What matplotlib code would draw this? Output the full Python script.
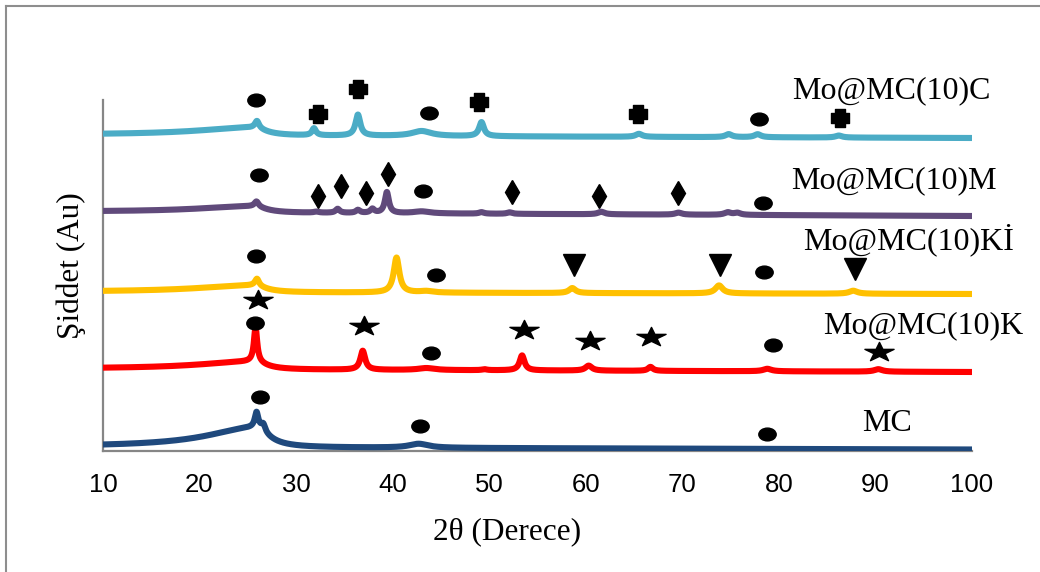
import numpy as np
import matplotlib
matplotlib.use("Agg")
import matplotlib.pyplot as plt
from matplotlib.path import Path
from matplotlib.transforms import Affine2D
from matplotlib.lines import Line2D

# ---------------------------------------------------------------------------
# XRD patterns (intensity in arbitrary units, curves stacked with offsets)
# each sample: baseline at 10° and 100°, broad carbon hump (A, centre, wl, wr)
# and sharp reflections (position, height, half width)
# ---------------------------------------------------------------------------
samples = ["MC", "Mo@MC(10)K", "Mo@MC(10)Kİ", "Mo@MC(10)M", "Mo@MC(10)C"]
colors = ["#1F497D", "#FF0000", "#FFC000", "#604A7B", "#4BACC6"]

base_left = [4, 82, 159, 239, 316]
base_right = [1.5, 79, 157, 235, 313]

hump_amp = [20, 8, 7, 6.5, 8]
hump_center = [25.8, 25.6, 25.6, 25.6, 25.6]
hump_wl = [6.0, 7.0, 7.0, 7.0, 7.0]
hump_wr = [1.6, 1.5, 1.5, 1.5, 1.5]

mc_pos = [25.9, 26.6, 42.7]
mc_h = [15, 7, 4]
mc_w = [0.22, 0.25, 1.2]

k_pos = [25.8, 36.9, 43.5, 49.5, 53.4, 60.3, 66.7, 78.8, 90.3]
k_h = [35, 19, 2, 1, 15, 5, 4, 2.5, 2.5]
k_w = [0.2, 0.3, 1.0, 0.3, 0.3, 0.4, 0.3, 0.5, 0.5]

ki_pos = [25.95, 40.4, 43.5, 58.6, 73.8, 87.7]
ki_h = [7, 35, 1.5, 5, 8, 3]
ki_w = [0.25, 0.35, 0.8, 0.4, 0.45, 0.5]

m_pos = [25.9, 32.1, 34.3, 36.4, 37.9, 39.4, 43.0, 49.2, 52.1, 61.6, 69.6, 74.7, 75.7]
m_h = [5, 1, 4, 3, 4, 21, 2, 1.5, 1.5, 2.5, 2, 2.5, 2]
m_w = [0.25, 0.3, 0.25, 0.25, 0.25, 0.25, 1.0, 0.3, 0.3, 0.4, 0.4, 0.4, 0.4]

c_pos = [25.95, 31.85, 36.4, 43.0, 49.2, 65.5, 74.8, 77.8, 86.2]
c_h = [7, 7, 21, 5, 14, 3, 3, 3, 2]
c_w = [0.25, 0.25, 0.3, 1.2, 0.3, 0.4, 0.4, 0.4, 0.4]

peak_pos = [mc_pos, k_pos, ki_pos, m_pos, c_pos]
peak_h = [mc_h, k_h, ki_h, m_h, c_h]
peak_w = [mc_w, k_w, ki_w, m_w, c_w]

# phase markers (2θ, height)
circle_x = [26.26, 42.83, 78.77, 25.74, 43.97, 79.39, 25.85, 44.49, 78.45,
            26.16, 43.14, 78.36, 25.85, 43.76, 77.94]
circle_y = [54, 25, 17, 128, 98, 106, 195, 176, 179, 276, 260, 248, 351, 338, 332]

star_x = [26.05, 37.03, 53.62, 60.44, 66.75, 90.36]
star_y = [151, 125, 121, 110, 114, 99]

tri_x = [58.78, 73.90, 87.88]
tri_y = [186, 186, 182]

diamond_x = [32.27, 34.65, 37.24, 39.52, 52.36, 61.37, 69.55]
diamond_y = [255, 265, 258, 277.5, 259.5, 255, 258]

plus_x = [32.27, 36.41, 48.94, 65.41, 86.33]
plus_y = [337, 362, 349, 337, 333]

label_x = [88.6, 84.57, 82.5, 81.25, 81.35]
label_y = [20.3, 118, 202, 263, 353]

x_ticks = [10, 20, 30, 40, 50, 60, 70, 80, 90, 100]


def pattern(x, i):
    y = base_left[i] + (base_right[i] - base_left[i]) * (x - 10) / 90.0
    c = hump_center[i]
    w = np.where(x < c, hump_wl[i], hump_wr[i])
    y = y + hump_amp[i] / (1 + ((x - c) / w) ** 2)
    for p, h, wd in zip(peak_pos[i], peak_h[i], peak_w[i]):
        y = y + h / (1 + ((x - p) / wd) ** 2)
    return y


# marker shapes
ellipse = Path.unit_circle().transformed(Affine2D().scale(1.36, 1.0))
star = Path.unit_regular_star(5, 0.381966).transformed(Affine2D().scale(1.0, 0.66))
t = 0.25
plus = Path([(-t, -0.5), (t, -0.5), (t, -t), (0.5, -t), (0.5, t), (t, t),
             (t, 0.5), (-t, 0.5), (-t, t), (-0.5, t), (-0.5, -t), (-t, -t),
             (-t, -0.5)], closed=True)

fig = plt.figure(figsize=(10.4, 5.72), dpi=100)
ax = fig.add_axes([103 / 1040, 1 - 451 / 572, (972 - 103) / 1040, 351 / 572])

x = np.linspace(10, 100, 4501)
for i, name in enumerate(samples):
    ax.plot(x, pattern(x, i), color=colors[i], lw=4.4, solid_capstyle="round",
            solid_joinstyle="round", zorder=2)
    ax.text(label_x[i], label_y[i], name, family="Liberation Serif",
            fontsize=23, ha="left", va="baseline", clip_on=False)

mk = dict(linestyle="none", color="black", zorder=3, clip_on=False)
ax.plot(circle_x, circle_y, marker=ellipse, ms=12.5, **mk)
ax.plot(star_x, star_y, marker=star, ms=21, **mk)
ax.plot(tri_x, tri_y, marker="v", ms=16.5, **mk)
ax.plot(diamond_x, diamond_y, marker="d", ms=12.5, **mk)
ax.plot(plus_x, plus_y, marker=plus, ms=13, **mk)

ax.set_xlim(10, 100)
ax.set_ylim(0, 351)
ax.set_xticks(x_ticks)
ax.set_xticklabels([str(v) for v in x_ticks], family="Liberation Sans", fontsize=18.5)
ax.tick_params(axis="x", length=0, pad=16)
ax.set_yticks([])
for s in ["top", "right"]:
    ax.spines[s].set_visible(False)
for s in ["left", "bottom"]:
    ax.spines[s].set_color("#868686")
    ax.spines[s].set_linewidth(1.6)
    ax.spines[s].set_zorder(1)

fig.text(507 / 1040, 1 - 532 / 572, "2θ (Derece)", family="Liberation Serif",
         fontsize=22.5, ha="center", va="center")
fig.text(71 / 1040, 1 - 266 / 572, "Şiddet (Au)", family="Liberation Serif",
         fontsize=22.5, ha="center", va="center", rotation=90)

# outer frame
fig.add_artist(Line2D([5.5 / 1040, 5.5 / 1040], [0, 1 - 5.5 / 572],
                      transform=fig.transFigure, color="#8e8e8e", lw=1.5))
fig.add_artist(Line2D([5.5 / 1040, 1], [1 - 5.5 / 572, 1 - 5.5 / 572],
                      transform=fig.transFigure, color="#8e8e8e", lw=1.5))

fig.savefig("out.png", dpi=100)
